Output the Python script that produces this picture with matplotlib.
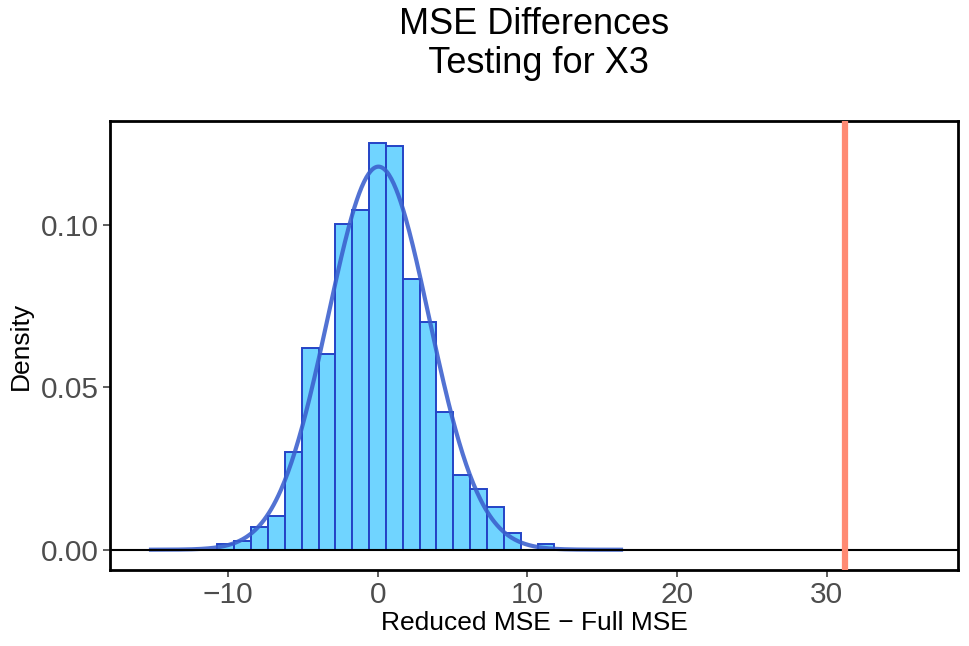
import numpy as np
import matplotlib
matplotlib.use("Agg")
import matplotlib.pyplot as plt

plt.rcParams['font.family'] = ['Liberation Sans', 'DejaVu Sans']

# ---- data ----
bin_start = -10.70
bin_width = 1.125
hist_density = [0.0017, 0.0026, 0.0069, 0.0105, 0.0302, 0.0621, 0.0603, 0.1003,
                0.1048, 0.1252, 0.1244, 0.0834, 0.0701, 0.0425, 0.0230, 0.0186,
                0.0133, 0.0052, 0.0, 0.0017]
curve_mean = 0.05
curve_sd = 3.38
curve_range = (-15.28, 16.39)
observed_diff = 31.24
x_ticks = [-10, 0, 10, 20, 30]
y_ticks = [0.00, 0.05, 0.10]
y_tick_labels = ["0.00", "0.05", "0.10"]
title_line1 = "MSE Differences"
title_line2 = " Testing for X3"
x_label = "Reduced MSE \u2212 Full MSE"
y_label = "Density"

W, H = 969, 646
fig = plt.figure(figsize=(W / 100, H / 100), dpi=100)
L, R, T, B = 110.3, 958.3, 121.3, 570.0
ax = fig.add_axes([L / W, 1 - B / H, (R - L) / W, (B - T) / H])

n = len(hist_density)
edges = bin_start + bin_width * np.arange(n + 1)
ax.bar(edges[:-1], hist_density, width=bin_width, align='edge',
       color='#70D4FF', edgecolor='#2443C6', linewidth=1.4, zorder=2)

xs = np.linspace(curve_range[0], curve_range[1], 400)
ys = np.exp(-0.5 * ((xs - curve_mean) / curve_sd) ** 2) / (curve_sd * np.sqrt(2 * np.pi))
ax.plot(xs, ys, color='#3A5FCD', alpha=0.88, linewidth=3.0, zorder=3, solid_capstyle='butt')

ax.axhline(0, color='black', linewidth=1.5, zorder=4)
ax.axvline(observed_diff, color='#FF8A73', linewidth=4.5, zorder=4)

ax.set_xlim(-17.86, 38.78)
ax.set_ylim(-0.00625, 0.132)

ax.set_xticks(x_ticks)
ax.set_yticks(y_ticks)
ax.set_yticklabels(y_tick_labels)
ax.tick_params(axis='both', which='major', length=5, width=1.1, color='#333333',
               labelcolor='#4D4D4D', labelsize=21.5, pad=3)

for s in ax.spines.values():
    s.set_linewidth(2.0)
    s.set_color('black')

ax.set_xlabel(x_label, fontsize=19, color='black', labelpad=1)
ax.set_ylabel(y_label, fontsize=19, color='black', labelpad=6)

cx = (L + R) / 2 / W
fig.text(cx, 1 - 34 / H, title_line1, ha='center', va='baseline', fontsize=26, color='black')
fig.text(cx, 1 - 73 / H, title_line2, ha='center', va='baseline', fontsize=26, color='black')

fig.savefig("out.png", dpi=100)
